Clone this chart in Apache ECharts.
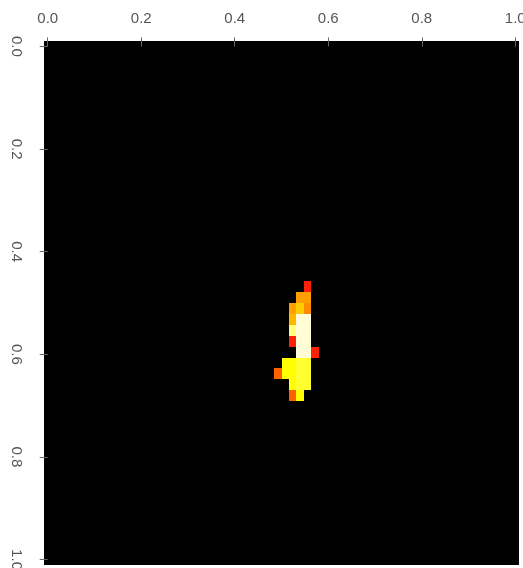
<!DOCTYPE html>
<html>
<head>
<meta charset="utf-8">
<script src="https://cdn.jsdelivr.net/npm/echarts@6/dist/echarts.min.js"></script>
<style>
  html, body { margin: 0; padding: 0; background: #fff; }
  #chart { width: 523px; height: 568px; }
</style>
</head>
<body>
<div id="chart"></div>
<script>
// matrix size (columns along x, rows along y)
const nCols = 64;
const nRows = 48;
const tickValues = [0, 0.2, 0.4, 0.6, 0.8, 1.0];

// non-zero cells of the matrix (everything else is background)
const cellCol = [35, 34, 35, 33, 34, 35, 33, 34, 35, 33, 34, 35, 33, 34, 35, 34, 35, 36,
  32, 33, 34, 35, 31, 32, 33, 34, 35, 33, 34, 35, 33, 34];
const cellRow = [22, 23, 23, 24, 24, 24, 25, 25, 25, 26, 26, 26, 27, 27, 27, 28, 28, 28,
  29, 29, 29, 29, 30, 30, 30, 30, 30, 31, 31, 31, 32, 32];
const cellLevel = [1, 4, 4, 4, 6, 3, 5, 10, 10, 9, 10, 10, 1, 10, 10, 10, 10, 1,
  7, 7, 8, 8, 2, 7, 7, 8, 8, 7, 8, 8, 2, 7];

// heat palette, index = level
const levelColors = ['#000000', '#ff2008', '#ff6000', '#ff8c00', '#ffa000', '#ffb800',
  '#ffcc00', '#ffff00', '#ffff30', '#ffff80', '#fffcd6'];

const cells = cellCol.map((c, i) => [c / (nCols - 1), cellRow[i] / (nRows - 1), cellLevel[i]]);

const chart = echarts.init(document.getElementById('chart'));
const labelStyle = {
  color: '#555',
  fontFamily: 'Liberation Sans, Arial, sans-serif',
  fontSize: 15
};
chart.setOption({
  animation: false,
  grid: {
    left: 44, right: 4, top: 41, bottom: 3,
    outerBoundsMode: 'none',
    containLabel: false,
    show: true,
    backgroundColor: '#000',
    borderWidth: 0
  },
  xAxis: {
    type: 'value',
    position: 'top',
    min: -0.5 / (nCols - 1),
    max: 1 + 0.5 / (nCols - 1),
    axisLine: { show: false },
    splitLine: { show: false },
    axisTick: { show: true, length: 9, customValues: tickValues, lineStyle: { color: '#666' } },
    axisLabel: Object.assign({
      customValues: tickValues,
      margin: 15,
      hideOverlap: false,
      formatter: v => v.toFixed(1)
    }, labelStyle)
  },
  yAxis: {
    type: 'value',
    inverse: true,
    min: -0.5 / (nRows - 1),
    max: 1 + 0.5 / (nRows - 1),
    axisLine: { show: false },
    splitLine: { show: false },
    axisTick: { show: true, length: 8, customValues: tickValues, lineStyle: { color: '#666' } },
    axisLabel: Object.assign({
      customValues: tickValues,
      margin: 35,
      rotate: -90,
      align: 'center',
      verticalAlign: 'bottom',
      formatter: v => v.toFixed(1)
    }, labelStyle)
  },
  series: [{
    type: 'custom',
    data: cells,
    renderItem: function (params, api) {
      const p = api.coord([api.value(0), api.value(1)]);
      const s = api.size([1 / (nCols - 1), 1 / (nRows - 1)]);
      const w = Math.abs(s[0]), h = Math.abs(s[1]);
      // snap to whole pixels so neighbouring cells meet without seams
      const x0 = Math.round(p[0] - w / 2), x1 = Math.round(p[0] + w / 2);
      const y0 = Math.round(p[1] - h / 2), y1 = Math.round(p[1] + h / 2);
      return {
        type: 'rect',
        shape: { x: x0, y: y0, width: x1 - x0, height: y1 - y0 },
        style: { fill: levelColors[api.value(2)] }
      };
    }
  }]
});
</script>
</body>
</html>
